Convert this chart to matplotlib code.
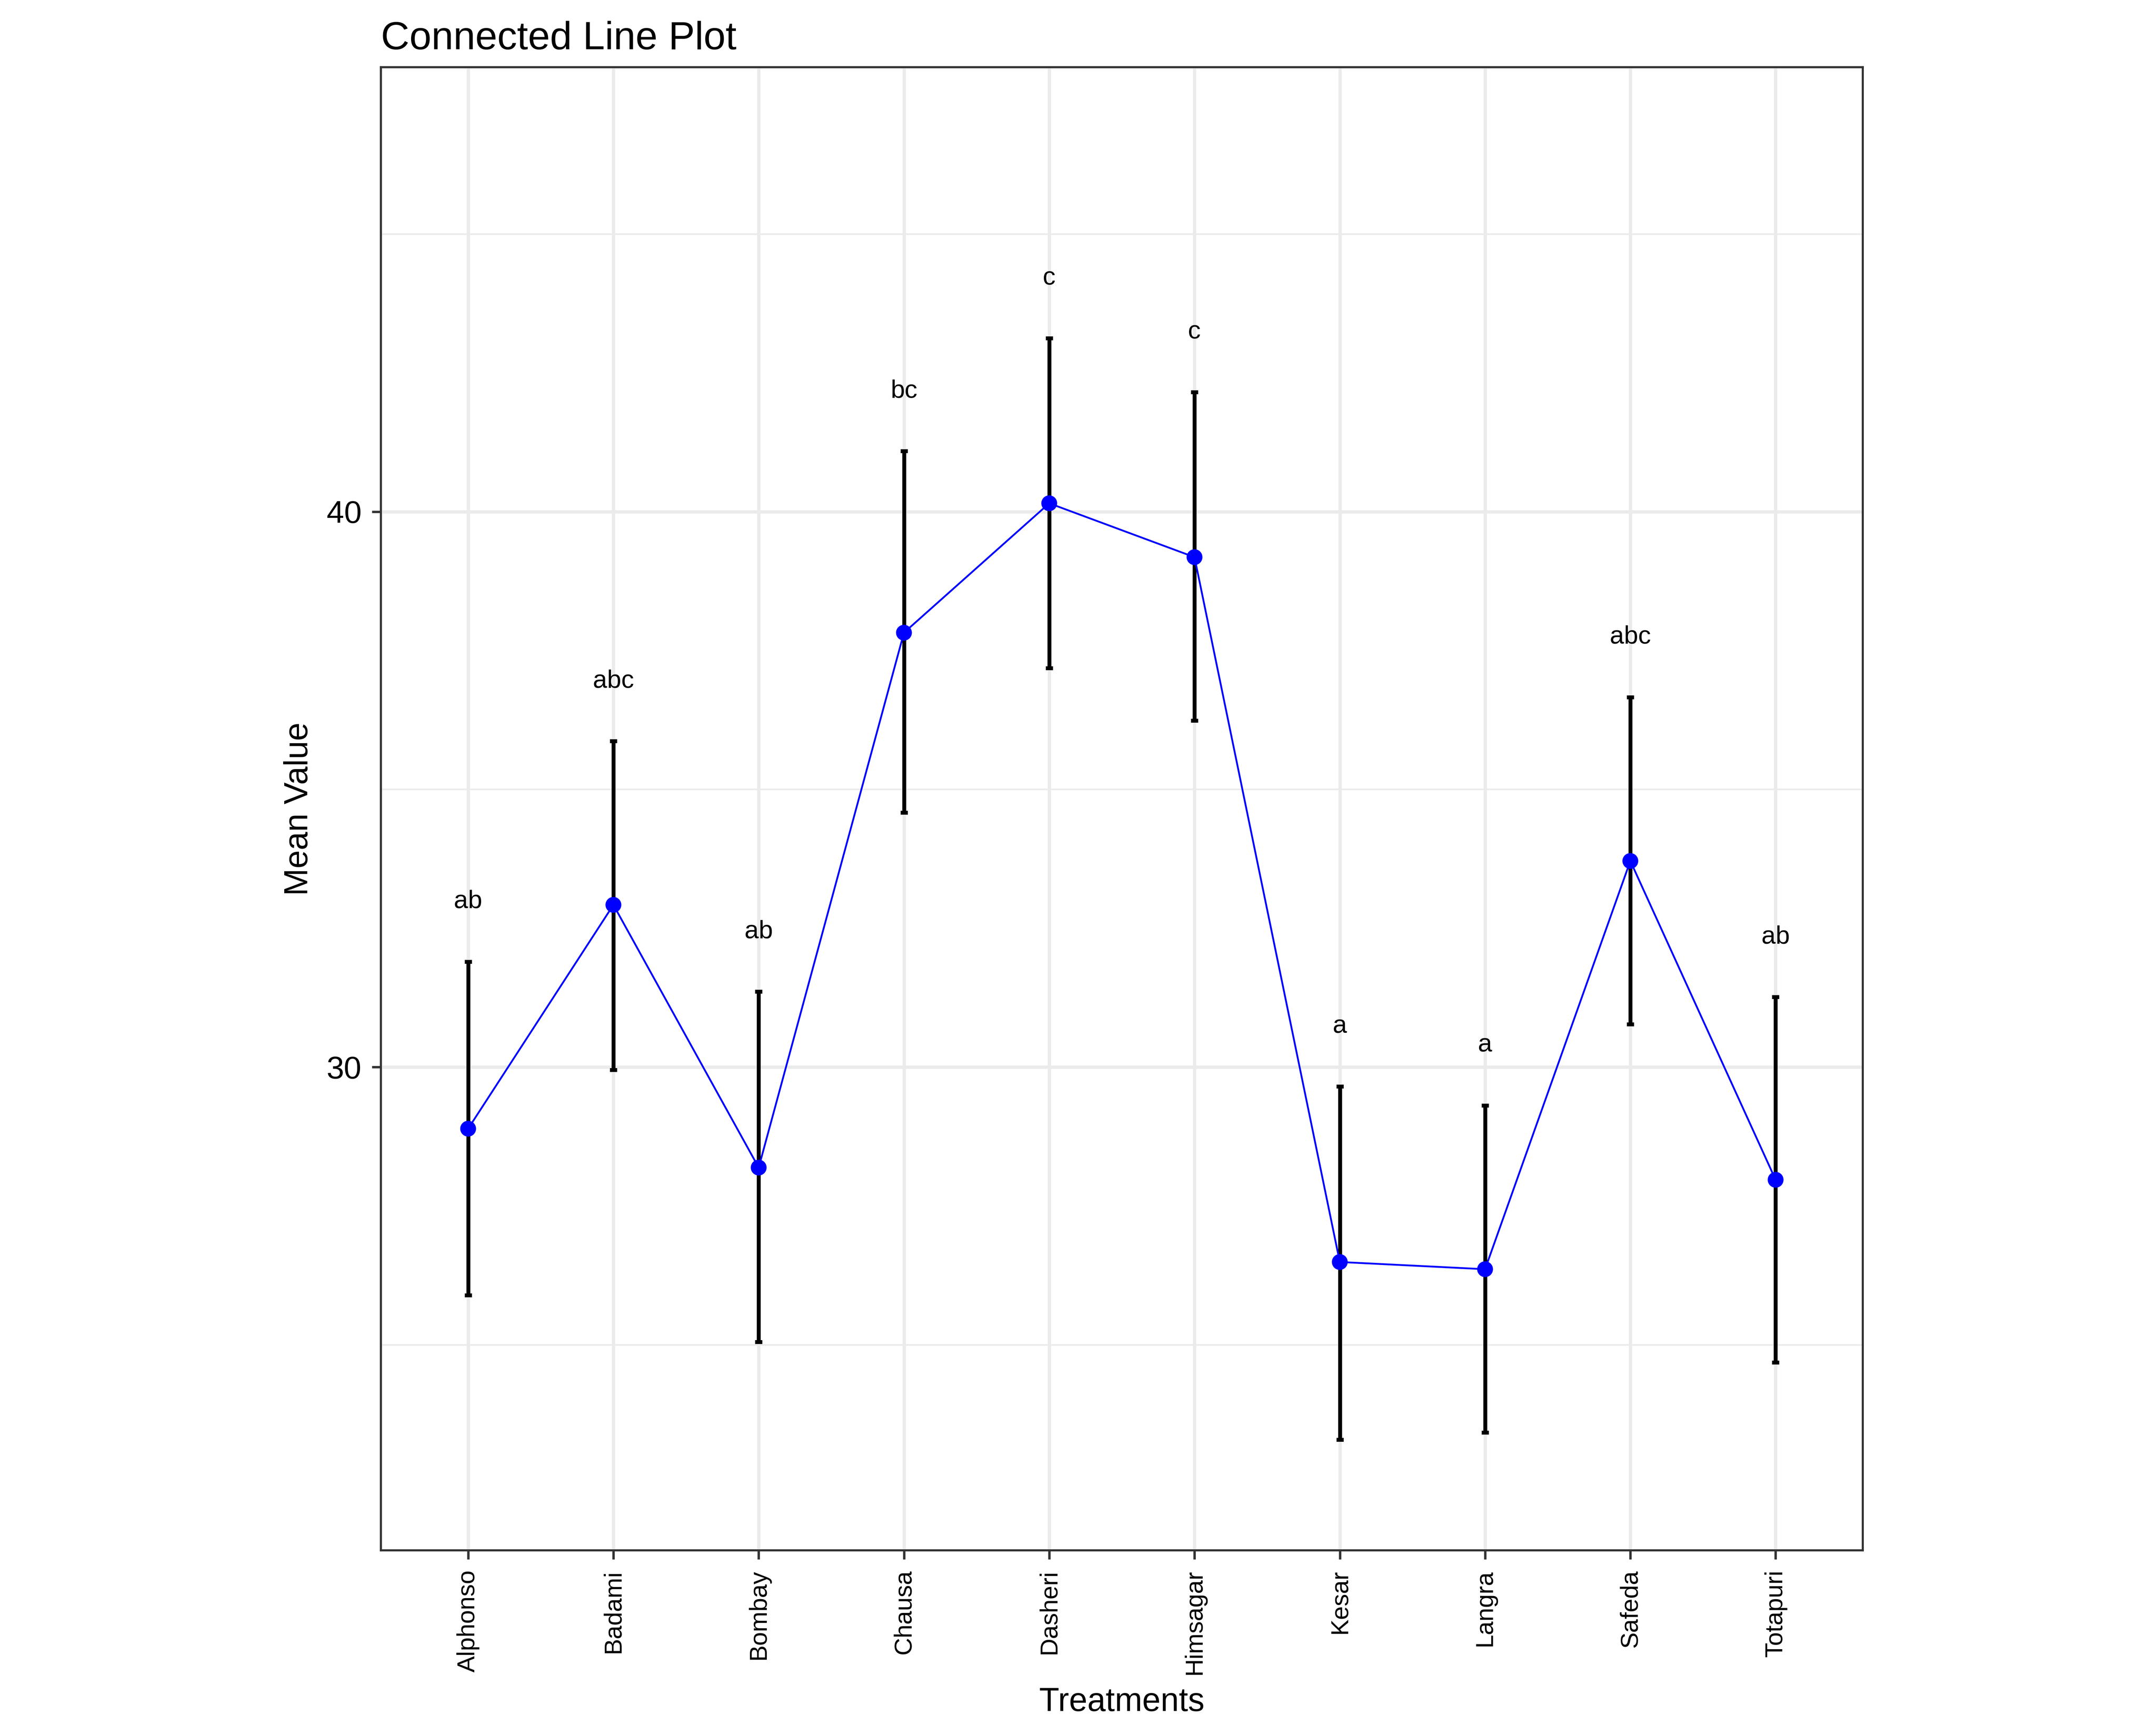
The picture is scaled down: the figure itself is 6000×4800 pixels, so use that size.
import numpy as np
import matplotlib
matplotlib.use("Agg")
import matplotlib.pyplot as plt
from matplotlib.ticker import MultipleLocator

plt.rcParams['font.family'] = ['Liberation Sans', 'DejaVu Sans']

treatments = ["Alphonso", "Badami", "Bombay", "Chausa", "Dasheri",
              "Himsagar", "Kesar", "Langra", "Safeda", "Totapuri"]
means = [28.89, 32.92, 28.19, 37.82, 40.15, 39.18, 26.49, 26.36, 33.71, 27.97]
upper = [31.90, 35.87, 31.36, 41.09, 43.12, 42.15, 29.65, 29.31, 36.66, 31.26]
lower = [25.89, 29.95, 25.05, 34.58, 37.18, 36.24, 23.29, 23.42, 30.77, 24.68]
letters = ["ab", "abc", "ab", "bc", "c", "c", "a", "a", "abc", "ab"]

x = np.arange(len(treatments))
means = np.array(means)
upper = np.array(upper)
lower = np.array(lower)

fig = plt.figure(figsize=(10, 8), dpi=600)
ax = fig.add_axes([0.1767, 0.1013, 0.864 - 0.1767, 0.961 - 0.1013])

ax.errorbar(x, means, yerr=[means - lower, upper - means], fmt='none',
            ecolor='black', elinewidth=1.3, capsize=1.2, capthick=1.3, zorder=3)
ax.plot(x, means, color='blue', linewidth=0.6, zorder=4)
ax.scatter(x, means, color='blue', s=28, zorder=5, edgecolors='none')

for xi, up, lab in zip(x, upper, letters):
    ax.text(xi, up + 1.08, lab, ha='center', va='center', fontsize=8.5)

ax.set_xlim(-0.6, len(treatments) - 0.4)
ax.set_ylim(21.3, 48.0)
ax.set_xticks(x)
ax.set_xticklabels(treatments, rotation=90, fontsize=8.2)
ax.yaxis.set_major_locator(MultipleLocator(10))
ax.yaxis.set_minor_locator(MultipleLocator(5))
ax.tick_params(axis='y', which='minor', length=0)
ax.tick_params(axis='both', which='major', length=3, width=0.8, color='#333333')
ax.tick_params(axis='y', labelsize=10.5)

ax.grid(True, which='major', color='#EBEBEB', linewidth=1.1, zorder=0)
ax.grid(True, which='minor', axis='y', color='#EBEBEB', linewidth=0.55, zorder=0)
ax.set_axisbelow(True)
for s in ax.spines.values():
    s.set_color('#333333')
    s.set_linewidth(0.7)

ax.set_xlabel("Treatments", fontsize=11)
ax.set_ylabel("Mean Value", fontsize=11)
ax.set_title("Connected Line Plot", loc='left', fontsize=13.2)

fig.savefig("out.png", dpi=600)
